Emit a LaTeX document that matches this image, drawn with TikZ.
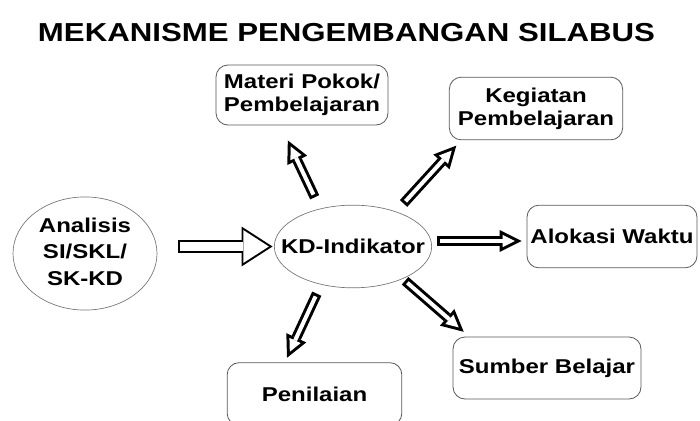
\documentclass[tikz,border=0pt]{standalone}
\usepackage{fontspec}
\setmainfont{Liberation Sans}[FakeStretch=1.2]
\usetikzlibrary{arrows.meta,shapes.geometric}

\tikzset{
	box/.style={draw=black!65, line width=0.6pt, rounded corners=9pt, inner sep=0pt, align=center, font=\fontsize{15}{17.5}\selectfont\bfseries},
	oval/.style={ellipse, draw=black!55, line width=0.5pt, inner sep=0pt, font=\fontsize{15}{20}\selectfont\bfseries},
	blockarrow/.style 2 args={draw=black, line width=7.5pt, -{Triangle[length=16.5pt,width=16.5pt,line width=0pt]}, shorten <=#1, shorten >=#2,
		postaction={draw=white, line width=3pt, -{Triangle[length=9.25pt,width=9.25pt,line width=0pt]}, shorten <=#1+2.25pt, shorten >=#2+5pt}},
	widearrow/.style 2 args={draw=black, line width=9.75pt, -{Triangle[length=23.25pt,width=30pt,line width=0pt]}, shorten <=#1, shorten >=#2,
		postaction={draw=white, line width=6.75pt, -{Triangle[length=19pt,width=24.5pt,line width=0pt]}, shorten <=#1+1.5pt, shorten >=#2+2.8pt}}
}

\begin{document}
\begin{tikzpicture}[x=0.75pt, y=-0.75pt]
	\path[use as bounding box, clip] (0,0) rectangle (700,421);
	\node[font=\fontsize{19.5}{22}\selectfont\bfseries, anchor=base] (title) at (346.5,41.7) {MEKANISME PENGEMBANGAN SILABUS};
	\node[oval, minimum width=108pt, minimum height=77pt] (ana) at (85,253.5) {\makebox[0pt]{\begin{tabular}{@{}c@{}}Analisis\\SI/SKL/\\SK-KD\end{tabular}}};
	\node[oval, minimum width=118pt, minimum height=62pt] (kd) at (353,246.5) {\makebox[0pt]{KD-Indikator}};
	\node[box, minimum width=129pt, minimum height=45pt] (mat) at (302,95) {Materi Pokok/\\Pembelajaran};
	\node[box, minimum width=130pt, minimum height=47pt] (keg) at (536,108.5) {Kegiatan\\Pembelajaran};
	\node[box, minimum width=127.5pt, minimum height=47pt] (alo) at (612,236.5) {Alokasi Waktu};
	\node[box, minimum width=141pt, minimum height=46.5pt] (sum) at (547,368) {Sumber Belajar};
	\node[box, minimum width=131pt, minimum height=47pt] (pen) at (314.5,394) {Penilaian};
	\draw[widearrow={15.75pt}{1.1pt}] (kd.west -| ana.east) -- (kd.west);
	\draw[blockarrow={9.4pt}{12.5pt}] (kd.131) -- (mat.-125);
	\draw[blockarrow={8.25pt}{5.5pt}] (kd.39) -- (keg.-157.5);
	\draw[blockarrow={4.5pt}{3.75pt}] (kd.4) -- (kd.4 -| alo.west);
	\draw[blockarrow={2.25pt}{5.5pt}] (kd.-33) -- (sum.158.7);
	\draw[blockarrow={7.5pt}{3.75pt}] (kd.-130) -- (pen.133);
\end{tikzpicture}
\end{document}
